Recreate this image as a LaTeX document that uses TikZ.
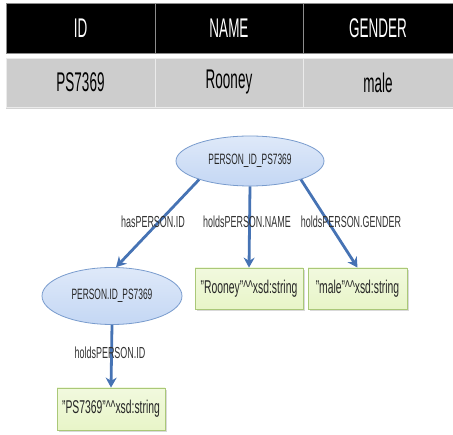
\documentclass[tikz,border=0pt]{standalone}
\usepackage{fontspec}
\setmainfont[FakeStretch=0.56]{Liberation Sans}
\newfontfamily\cellfont[FakeStretch=0.5]{Liberation Sans}
\usepackage{tikz}
\usetikzlibrary{arrows.meta,shapes.geometric,shadows}
\definecolor{linkblue}{RGB}{70,115,180}
\definecolor{ellfill}{RGB}{196,215,244}
\definecolor{ellline}{RGB}{120,155,205}
\definecolor{litfill}{RGB}{232,245,200}
\definecolor{litline}{RGB}{170,200,120}
\definecolor{rowgray}{RGB}{205,205,205}

\begin{document}
\begin{tikzpicture}[
  x=1pt, y=-1pt,
  headcell/.style = {fill=black, draw=white!55!black, text=white, minimum height=50pt, inner sep=0pt, font=\cellfont\fontsize{27}{27}\selectfont},
  datacell/.style = {fill=rowgray, draw=white!92!black, minimum height=49pt, inner sep=0pt, font=\cellfont\fontsize{27}{27}\selectfont,
                     drop shadow={shadow xshift=0pt, shadow yshift=-2.5pt, opacity=0.35}},
  resource/.style = {ellipse, draw=ellline, line width=0.8pt, top color=ellfill!55, bottom color=ellfill, inner sep=0pt,
                     font=\fontsize{15}{15}\selectfont, text=black!85},
  literal/.style = {rectangle, draw=litline, line width=0.8pt, top color=litfill!60, bottom color=litfill, minimum height=41pt,
                    inner sep=0pt, font=\fontsize{18.5}{18.5}\selectfont, text=black!85,
                    drop shadow={shadow xshift=1.5pt, shadow yshift=-2pt, opacity=0.3}},
  prop/.style = {font=\fontsize{16}{16}\selectfont, text=black!80},
  link/.style = {draw=linkblue, line width=2.8pt, -{Stealth[length=10pt,width=11pt]}}
]
  \useasboundingbox (0,0) rectangle (453,435);

  \node[headcell, minimum width=149pt] (hId) at (80.5,28) {ID};
  \node[headcell, minimum width=148pt] (hName) at (229,28) {NAME};
  \node[headcell, minimum width=150pt] (hGender) at (378,28) {GENDER};
  \node[datacell, minimum width=149pt] (dId) at (80.5,82.5) {PS7369};
  \node[datacell, minimum width=148pt] (dName) at (229,82.5) {Rooney};
  \node[datacell, minimum width=150pt] (dGender) at (378,82.5) {male};

  \node[resource, minimum width=148pt, minimum height=50pt] (person) at (250,161) {PERSON\_ID\_PS7369};
  \node[resource, minimum width=140pt, minimum height=57pt] (personId) at (112,296) {PERSON.ID\_PS7369};
  \node[literal, minimum width=108pt] (litName) at (249,288.5) {"Rooney"\textasciicircum\textasciicircum xsd:string};
  \node[literal, minimum width=99pt] (litGender) at (357.5,288.5) {"male"\textasciicircum\textasciicircum xsd:string};
  \node[literal, minimum width=108pt, minimum height=42pt] (litId) at (111,409) {"PS7369"\textasciicircum\textasciicircum xsd:string};

  \draw[link] (person.200) -- (personId.82);
  \draw[link] (person.south) -- (litName.north);
  \draw[link] (person.-20) -- (litGender.north);
  \draw[link] (personId.south) -- (litId.north);

  \node[prop] (pHas) at (153,222) {hasPERSON.ID};
  \node[prop] (pName) at (247,222) {holdsPERSON.NAME};
  \node[prop] (pGender) at (351,222) {holdsPERSON.GENDER};
  \node[prop] (pId) at (110,353) {holdsPERSON.ID};
\end{tikzpicture}
\end{document}
